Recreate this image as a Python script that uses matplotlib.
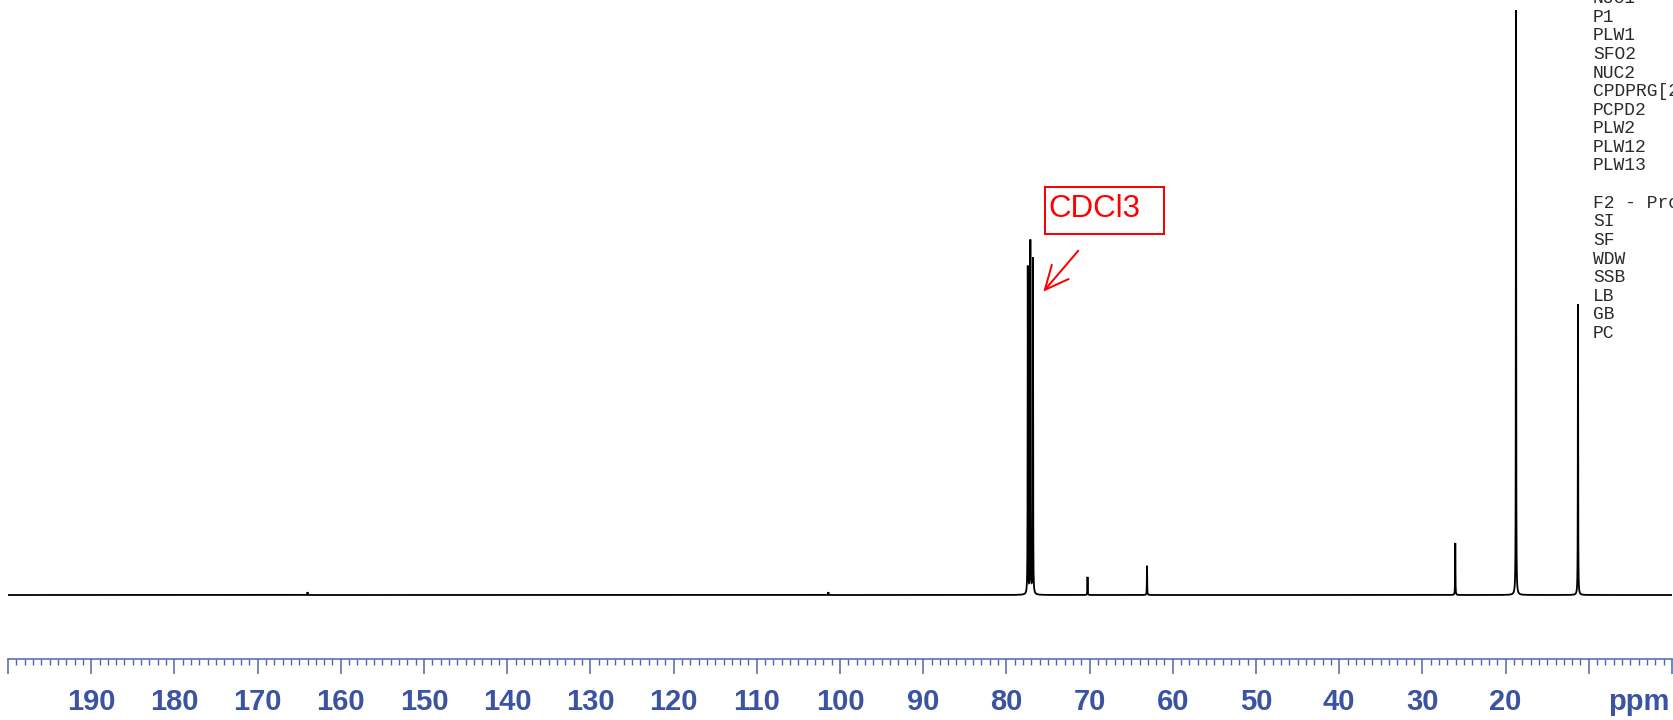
import numpy as np
import matplotlib
matplotlib.use("Agg")
import matplotlib.pyplot as plt
from matplotlib.patches import Rectangle

# 13C{1H} peak list: chemical shift (ppm) and relative intensity (tallest line = 100)
peak_shifts = [164.0, 101.4, 77.43, 77.12, 76.81, 70.25, 63.10, 26.05, 18.75, 11.30]
peak_heights = [0.5, 0.5, 56.0, 60.3, 57.4, 3.1, 5.0, 8.9, 100.0, 49.7]

# ppm scale
tick_values = list(range(0, 201, 10))
tick_text = {v: str(v) for v in range(20, 191, 10)}
axis_unit = "ppm"

# acquisition / processing parameter names listed at the right margin
param_names = ["NUC1", "P1", "PLW1", "SFO2", "NUC2", "CPDPRG[2]", "PCPD2",
               "PLW2", "PLW12", "PLW13", "", "F2 - Processing parameters",
               "SI", "SF", "WDW", "SSB", "LB", "GB", "PC"]

solvent_label = "CDCl3"

# ---------------------------------------------------------------- layout
W, H, DPI = 1674, 720, 100
PX_PER_UNIT = 5.85          # vertical pixels per intensity unit
BASE_PX = 595               # baseline, pixels from top
AXIS_PX = 659               # ppm axis line, pixels from top
X_LEFT, X_RIGHT = 8, 1672   # pixel span of 200 ... 0 ppm
LABEL_BLUE = "#3b53a3"
AXIS_BLUE = "#4d64ae"

plt.rcParams["font.family"] = ["Liberation Sans", "DejaVu Sans"]

fig = plt.figure(figsize=(W / DPI, H / DPI), dpi=DPI)
fig.patch.set_facecolor("white")

ax = fig.add_axes([X_LEFT / W, 0, (X_RIGHT - X_LEFT) / W, 1])
ax.set_xlim(200, 0)
ax.set_ylim((BASE_PX - H) / PX_PER_UNIT, BASE_PX / PX_PER_UNIT)
ax.set_facecolor("none")

# Lorentzian lines on a fine ppm grid
half_width = 0.02
ppm = np.linspace(200, 0, 100001)
spectrum = np.zeros_like(ppm)
for shift, height in zip(peak_shifts, peak_heights):
    spectrum += height * half_width ** 2 / ((ppm - shift) ** 2 + half_width ** 2)

ax.plot(ppm, spectrum, color="black", lw=1.3, solid_joinstyle="miter")

# ppm axis drawn as the bottom spine, moved up to the axis line
for side in ("left", "right", "top"):
    ax.spines[side].set_visible(False)
ax.spines["bottom"].set_position(("data", (BASE_PX - AXIS_PX) / PX_PER_UNIT))
ax.spines["bottom"].set_color(AXIS_BLUE)
ax.spines["bottom"].set_linewidth(1.1)
ax.set_yticks([])

ax.set_xticks(tick_values,
              labels=[tick_text.get(v, "") for v in tick_values],
              fontsize=21, fontweight="bold", color=LABEL_BLUE)
ax.set_xticks(np.arange(0, 201, 1), minor=True)
ax.tick_params(axis="x", which="major", direction="out", length=10.8,
               width=1.1, color=AXIS_BLUE, pad=10.3)
ax.tick_params(axis="x", which="minor", direction="out", length=4.0,
               width=1.0, color=AXIS_BLUE)

fig.text(1669 / W, (H - 710) / H, axis_unit, ha="right", va="baseline",
         fontsize=21, fontweight="bold", color=LABEL_BLUE)

# solvent annotation
fig.add_artist(Rectangle((1045 / W, (H - 234) / H), 119 / W, 47 / H,
                         transform=fig.transFigure, fill=False,
                         ec="#ff0000", lw=1.44))
fig.text(1048.5 / W, (H - 216.7) / H, solvent_label, ha="left", va="baseline",
         fontsize=22.5, color="#ff0000")
ax.annotate("", xy=(1043.3 / W, (H - 291.7) / H),
            xytext=(1078.3 / W, (H - 250.7) / H),
            xycoords="figure fraction", textcoords="figure fraction",
            arrowprops=dict(arrowstyle="->,head_length=17,head_width=7.9",
                            mutation_scale=1, lw=1.44, color="#ff0000",
                            shrinkA=0, shrinkB=0))

# parameter names, one per row (the list runs on past the right margin)
for i, name in enumerate(param_names):
    if not name:
        continue
    baseline = 21.7 + (i - 1) * 18.6
    fig.text(1593 / W, (H - baseline) / H, name, ha="left", va="baseline",
             family=["Liberation Mono", "DejaVu Sans Mono"], fontsize=13,
             color="#2a2a2a")

fig.savefig("out.png", dpi=DPI)
